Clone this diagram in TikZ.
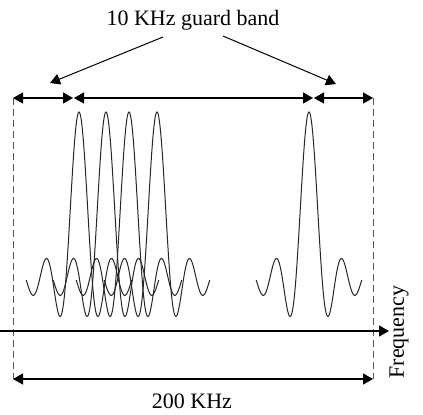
\documentclass[tikz,border=0pt]{standalone}
\usepackage{fontspec}
\setmainfont{Liberation Serif}
\usetikzlibrary{arrows.meta}
\begin{document}
\begin{tikzpicture}[x=0.5pt,y=-0.5pt,
  tip/.tip={Triangle[length=5pt,width=5.5pt]},
  dim/.style={line width=0.6pt,{tip}-{tip}},
  lead/.style={line width=0.5pt,-{tip}},
  guide/.style={line width=0.5pt,dash pattern=on 3.5pt off 2pt,gray!70!black},
  sincwave/.style={line width=0.5pt,black!85},
  lbl/.style={font=\fontsize{11}{13}\selectfont,inner sep=0pt}]
\useasboundingbox (0,0) rectangle (423,414);
% label and leaders
\node[lbl] (gb) at (193,20) {10 KHz guard band};
\coordinate (gbl) at (163,37);
\coordinate (gbr) at (223,36);
\coordinate (gtl) at (50,83);
\coordinate (gtr) at (336,84);
\draw[lead] (gbl) -- (gtl);
\draw[lead] (gbr) -- (gtr);
% top dimension arrows
\coordinate (a0) at (13,98);
\coordinate (a1) at (73,98);
\coordinate (a2) at (74,98);
\coordinate (a3) at (313,98);
\coordinate (a4) at (314,98);
\coordinate (a5) at (373,98);
\draw[dim] (a0) -- (a1);
\draw[dim] (a2) -- (a3);
\draw[dim] (a4) -- (a5);
% dashed guides
\coordinate (b0) at (13,379);
\coordinate (b5) at (373,379);
\draw[guide] (a0) -- (b0);
\draw[guide] (a5) -- (b5);
% sinc pulses
\foreach \c in {79,106,129,157,309}{
  \draw[sincwave] plot[domain=-12.566:12.566,samples=160,smooth]
    ({\c+4.2*\x},{280-168*sin(\x r)/\x});
}
% frequency axis
\coordinate (f0) at (0,331);
\coordinate (f1) at (389,331);
\draw[lead,line width=0.6pt] (f0) -- (f1);
\node[lbl,rotate=90] (freq) at (399,332) {Frequency};
% bottom dimension
\draw[dim] (b0) -- (b5);
\node[lbl] (bw) at (192,401) {200 KHz};
\end{tikzpicture}
\end{document}
